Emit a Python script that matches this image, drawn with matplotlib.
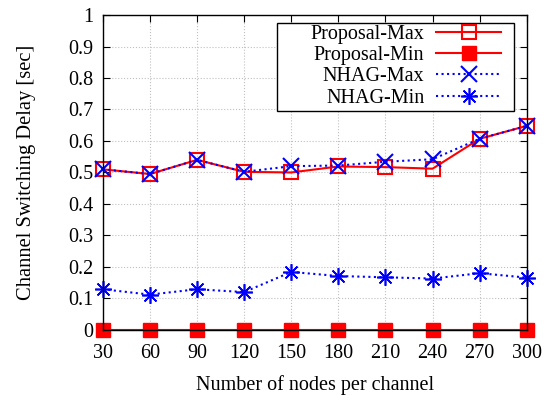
import numpy as np
import matplotlib.pyplot as plt
from matplotlib.patches import Rectangle

plt.rcParams['font.family'] = ['Liberation Serif', 'DejaVu Serif']

nodes = [30, 60, 90, 120, 150, 180, 210, 240, 270, 300]
proposal_max = [0.510, 0.495, 0.540, 0.502, 0.500, 0.519, 0.517, 0.512, 0.607, 0.648]
proposal_min = [0, 0, 0, 0, 0, 0, 0, 0, 0, 0]
nhag_max = [0.510, 0.495, 0.540, 0.502, 0.520, 0.522, 0.534, 0.542, 0.607, 0.648]
nhag_min = [0.129, 0.112, 0.129, 0.120, 0.184, 0.171, 0.167, 0.163, 0.180, 0.166]
ytick_labels = ['0', '0.1', '0.2', '0.3', '0.4', '0.5', '0.6', '0.7', '0.8', '0.9', '1']

fs = 14.5
fig = plt.figure(figsize=(5.47, 3.96), dpi=100)
ax = fig.add_axes([0.188, 0.167, 0.775, 0.795])

ax.plot(nodes, proposal_max, color='red', lw=1.5, marker='s', ms=10,
        mfc='none', mec='red', mew=1.5, label='Proposal-Max', clip_on=False, zorder=3)
ax.plot(nodes, proposal_min, color='red', lw=1.5, marker='s', ms=10,
        mfc='red', mec='red', label='Proposal-Min', clip_on=False, zorder=3)
ax.plot(nodes, nhag_max, color='blue', lw=1.5, ls=':', marker='x', ms=11,
        mew=1.5, label='NHAG-Max', clip_on=False, zorder=4)
ax.plot(nodes, nhag_min, color='blue', lw=1.5, ls=':', marker=(8, 2, 0), ms=12,
        mew=1.2, label='NHAG-Min', clip_on=False, zorder=4)

ax.set_xlim(30, 300)
ax.set_ylim(0, 1)
ax.set_xticks(nodes)
ax.set_yticks(np.arange(0, 1.01, 0.1))
ax.set_yticklabels(ytick_labels)
ax.tick_params(direction='in', top=True, right=True, labelsize=fs, length=5)
ax.tick_params(axis='x', pad=10)
ax.tick_params(axis='y', pad=7)
ax.grid(True, color='#c0c0c0', ls=':', lw=0.8)
for s in ax.spines.values():
    s.set_linewidth(1.0)
    s.set_zorder(5)

ax.set_xlabel('Number of nodes per channel', fontsize=fs, labelpad=9)
ax.set_ylabel('Channel Switching Delay [sec]', fontsize=14.8, labelpad=23)

# gnuplot style key: text right aligned, sample after the text
leg = ax.legend(loc='upper right', markerfirst=False, fontsize=fs, frameon=False,
                handlelength=3.2, borderpad=0, labelspacing=0.1, handletextpad=0.6,
                borderaxespad=0, bbox_to_anchor=(0.939, 0.968))
leg.set_zorder(6)
fig.canvas.draw()
bb = leg.get_window_extent().transformed(fig.transFigure.inverted())
W, H = fig.get_size_inches() * fig.dpi
box = Rectangle((bb.x0 - 33 / W, bb.y0 - 3 / H), bb.width + 46 / W, bb.height + 5 / H,
                transform=fig.transFigure, facecolor='white', edgecolor='black',
                lw=1.0, zorder=5.5, clip_on=False)
ax.add_patch(box)

fig.savefig('out.png', dpi=100)
